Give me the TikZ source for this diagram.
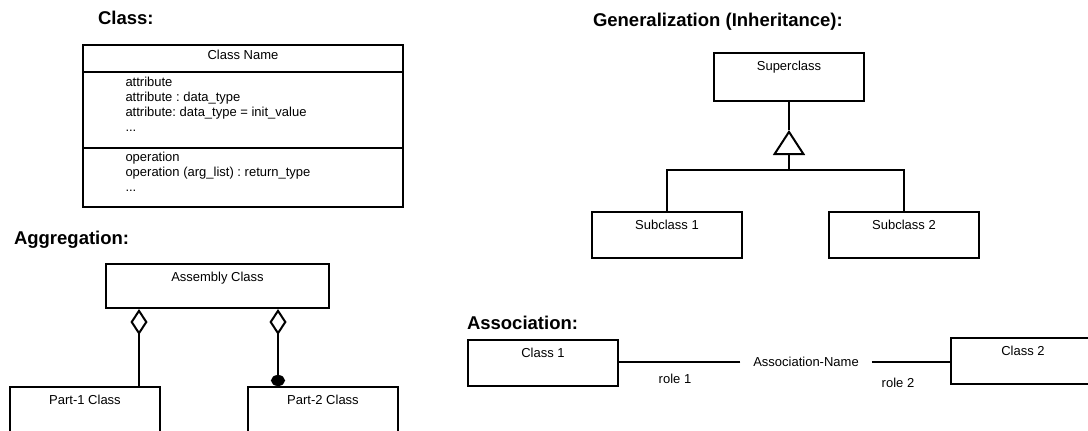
\documentclass[tikz,border=0pt]{standalone}
\usepackage{fontspec}
\setmainfont{Liberation Sans}
\usetikzlibrary{arrows.meta,positioning,calc}
\frenchspacing

\begin{document}
\begin{tikzpicture}[x=1pt, y=-1pt, line width=2pt,
  every node/.style={font=\fontsize{13}{15}\selectfont},
  title/.style={anchor=base west, inner sep=0pt, font=\fontsize{18.5}{22}\selectfont\bfseries},
  umlbox/.style={draw, anchor=north west, inner sep=0pt, minimum width=150pt, text height=17pt, text depth=29pt},
  compartment/.style={draw, anchor=north, inner sep=0pt, outer sep=0pt, minimum width=320pt},
  aggregate/.style={-{Diamond[open, length=26pt, width=17pt]}},
  composite/.style={{Circle[length=11pt, width=14pt]}-{Diamond[open, length=26pt, width=17pt]}},
  generalize/.style={-{Triangle[open, length=25pt, width=32pt]}}]
\useasboundingbox (0,0) rectangle (1088,431);

% class
\node[title] (classtitle) at (97,24) {Class:};
\node[compartment, text height=14.5pt, text depth=12.5pt] (classname) at (243,45) {Class Name};
\node[compartment, text height=14.5pt, text depth=61.5pt, below=0pt of classname] (attrs)
  {\parbox[t]{235pt}{attribute\\attribute : data\_type\\attribute: data\_type = init\_value\\...}};
\node[compartment, text height=13pt, text depth=46pt, below=0pt of attrs] (ops)
  {\parbox[t]{235pt}{operation\\operation (arg\_list) : return\_type\\...}};

% generalization
\node[title] (gentitle) at (592,27) {Generalization (Inheritance):};
\node[umlbox, text depth=31pt] (super) at (713,52) {Superclass};
\node[umlbox] (sub1) at (591,211) {Subclass 1};
\node[umlbox] (sub2) at (828,211) {Subclass 2};
\coordinate (apex) at ($(super.south)+(0,28)$);
\coordinate (fork) at ($(super.south)+(0,68)$);
\draw (super.south) -- (apex);
\draw[generalize] (fork) -- (apex);
\draw (sub1.north) |- (fork) -| (sub2.north);

% aggregation
\node[title] (aggtitle) at (13,244) {Aggregation:};
\node[umlbox, minimum width=223pt, text depth=27pt] (assembly) at (105,263) {Assembly Class};
\node[umlbox] (part1) at (9,386) {Part-1 Class};
\node[umlbox] (part2) at (247,386) {Part-2 Class};
\coordinate (agg1) at (139,0);
\coordinate (agg2) at (278,0);
\draw[aggregate] (part1.north -| agg1) -- (assembly.south -| agg1);
\draw[composite] (part2.north -| agg2) -- (assembly.south -| agg2);

% association
\node[title] (assoctitle) at (466,329) {Association:};
\node[umlbox] (class1) at (467,339) {Class 1};
\node[umlbox, minimum width=144pt] (class2) at (950,337) {Class 2};
\node[inner xsep=12pt] (assocname) at (806,362) {Association-Name};
\draw (assocname.west) -- (assocname.west -| class1.east);
\draw (assocname.east) -- (assocname.east -| class2.west);
\node (role1) at (675,379) {role 1};
\node (role2) at (898,383) {role 2};
\end{tikzpicture}
\end{document}
